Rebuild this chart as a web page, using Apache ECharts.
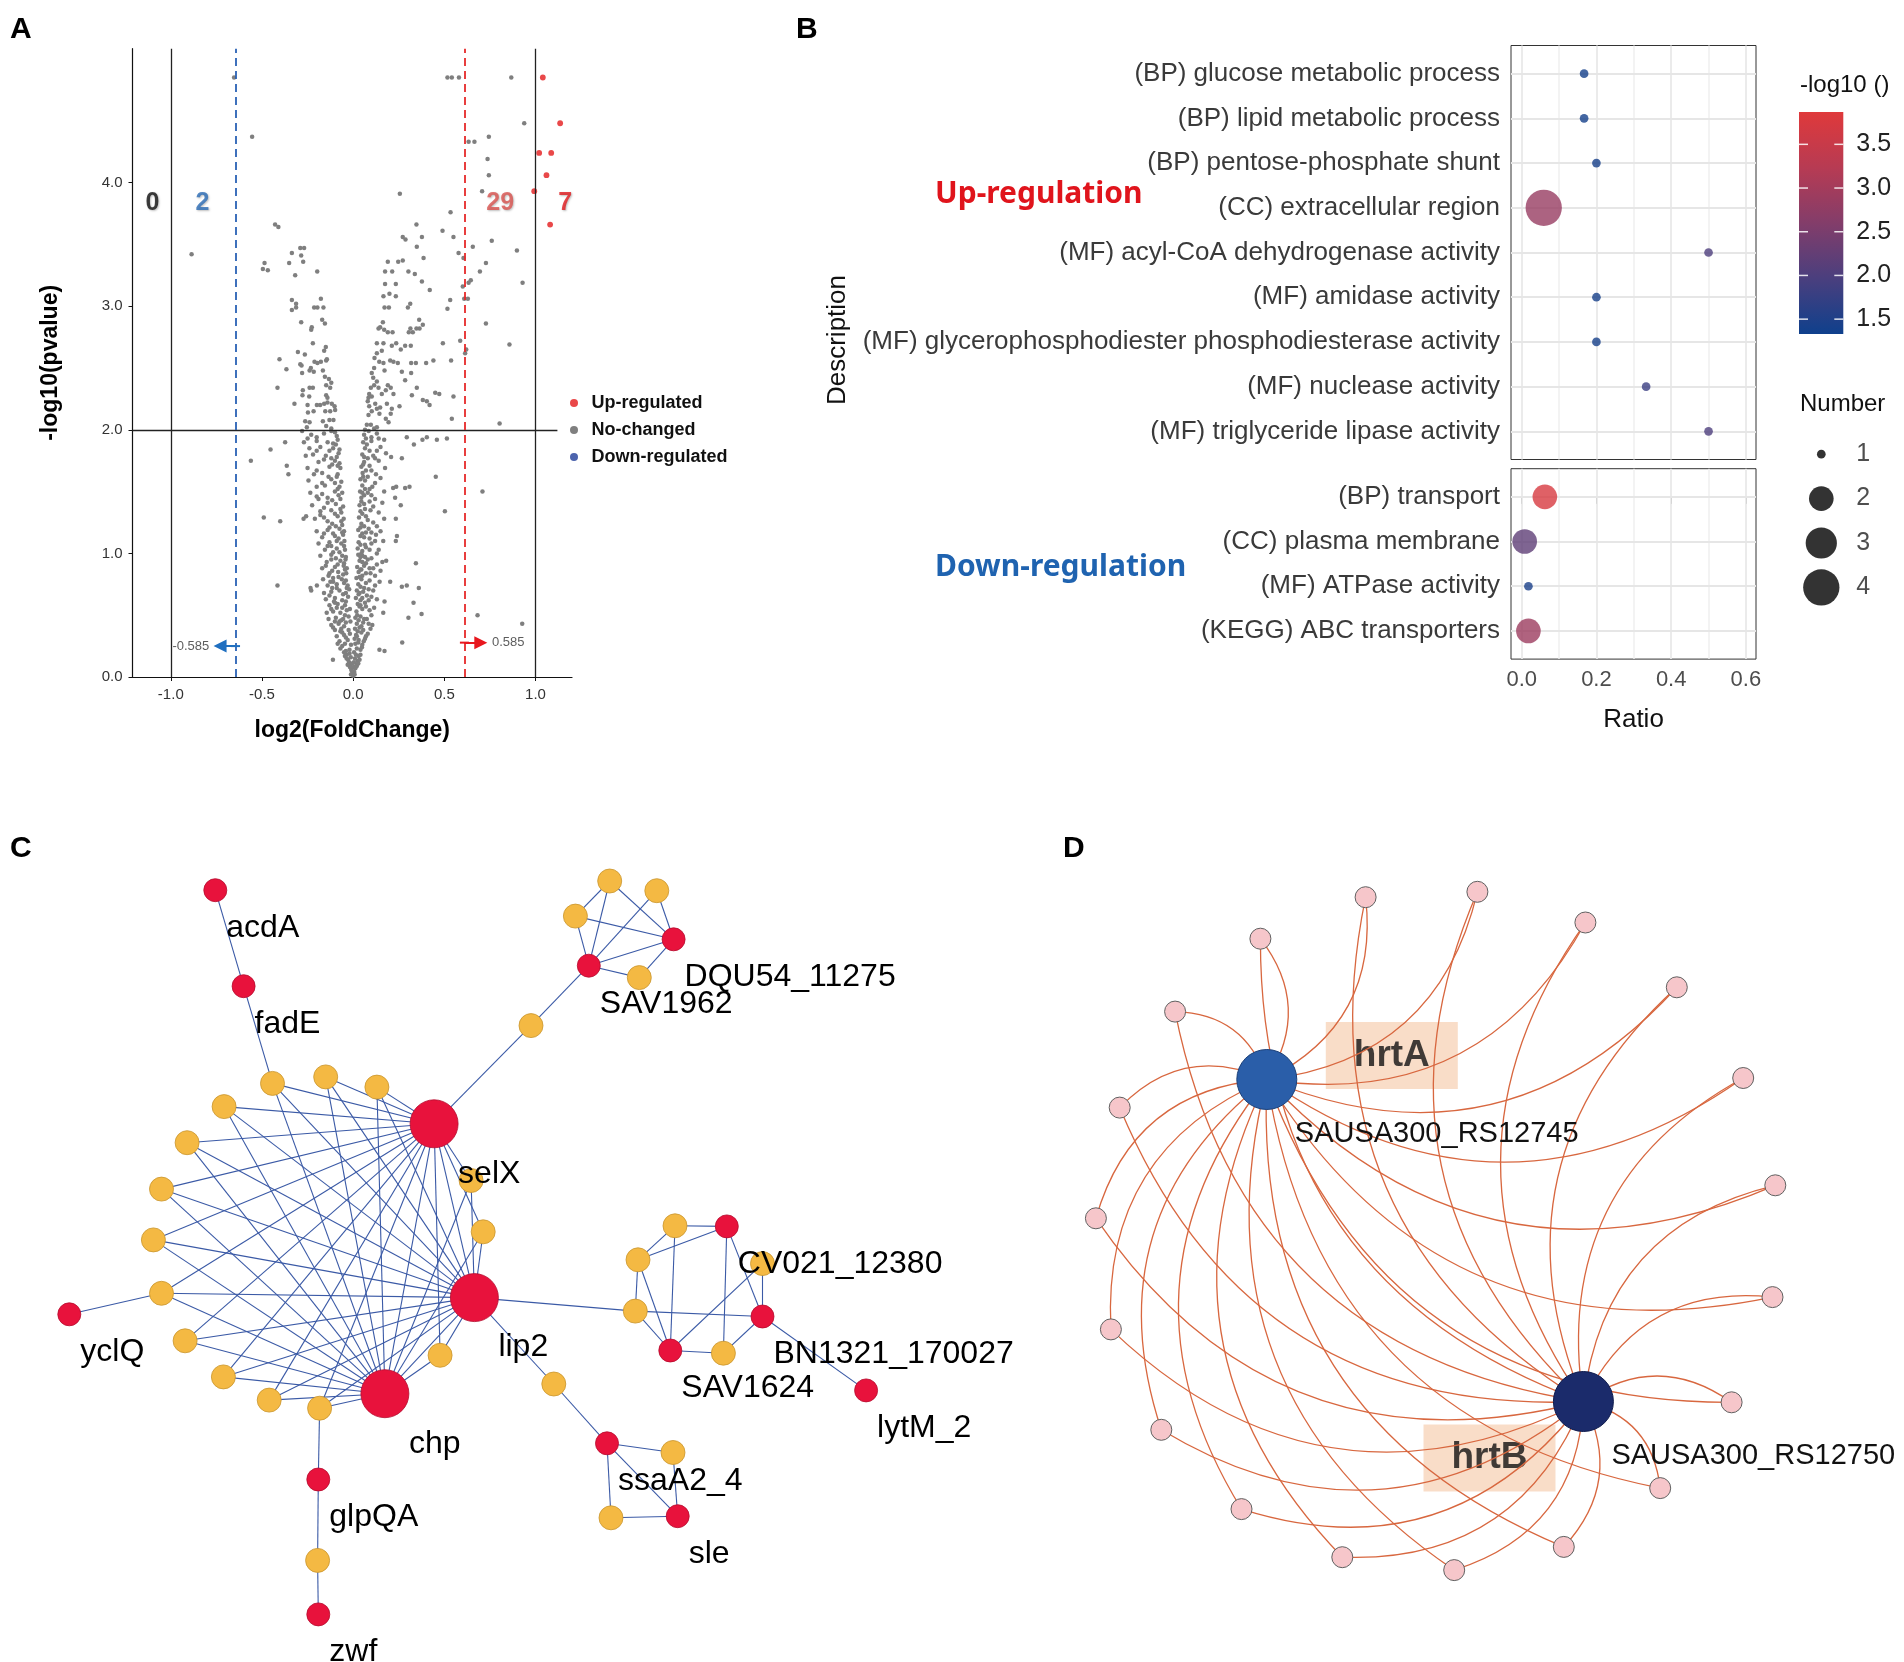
<!DOCTYPE html>
<html><head><meta charset="utf-8">
<script src="https://cdn.jsdelivr.net/npm/echarts@6/dist/echarts.min.js"></script>
<style>html,body{margin:0;padding:0;background:#fff}#c{width:1904px;height:1662px}</style>
</head><body><div id="c"></div>
<script>
// ================= Panel A: volcano =================
const volcanoUp = [[1.04,4.85],[1.135,4.48],[1.02,4.24],[1.086,4.24],[1.06,4.06],[0.993,3.93],[1.08,3.66]];
const volcanoDown = [];
const volcanoGray = [
[-0.653,4.85],[0.517,4.85],[0.541,4.85],[0.580,4.85],[0.867,4.85],[0.938,4.48],[-0.554,4.37],[0.633,4.33],[0.665,4.33],[0.744,4.37],
[0.737,4.19],[0.744,4.06],[0.707,3.93],[0.256,3.91],[-0.886,3.42],
[-0.428,3.66],[-0.41,3.64],[0.534,3.76],[0.347,3.66],[0.49,3.61],[0.55,3.56],[0.76,3.53],[0.272,3.56],[0.287,3.54],[0.377,3.56],[0.349,3.48],[0.656,3.48],[0.898,3.45],[0.578,3.43],[0.605,3.39],[0.386,3.39],
[-0.29,3.47],[-0.269,3.47],[-0.336,3.43],[-0.285,3.41],[-0.274,3.36],[-0.351,3.35],[-0.486,3.35],[-0.495,3.30],[-0.468,3.29],[-0.318,3.25],[-0.197,3.28],
[0.19,3.36],[0.247,3.36],[0.272,3.37],[0.175,3.28],[0.214,3.28],[0.303,3.28],[0.338,3.26],[0.728,3.35],[0.695,3.28],[0.377,3.20],[0.42,3.13],[0.929,3.19],[0.645,3.21],[0.633,3.19],[0.601,3.16],[0.175,3.18],[0.234,3.18],
[0.166,3.08],[0.199,3.10],[0.234,3.08],[0.609,3.06],[0.629,3.06],[0.532,3.05],[0.517,2.98],[0.313,3.02],[0.30,2.99],[0.172,2.99],[0.196,2.99],
[-0.336,3.05],[-0.313,3.02],[-0.336,2.97],[-0.313,2.99],[-0.214,2.99],[-0.196,2.99],[-0.163,2.99],[-0.177,3.06],[-0.285,2.87],[-0.17,2.89],[-0.155,2.86],[-0.227,2.83],[-0.23,2.81],
[0.163,2.87],[0.148,2.83],[0.139,2.82],[0.17,2.81],[0.19,2.79],[0.216,2.79],[0.362,2.89],[0.382,2.85],[0.364,2.82],[0.347,2.82],[0.314,2.82],[0.305,2.79],[0.327,2.79],[0.728,2.86],
[-0.221,2.70],[-0.303,2.63],[-0.265,2.61],[-0.15,2.67],[-0.159,2.64],[-0.404,2.57],[-0.29,2.53],[-0.283,2.52],[-0.212,2.55],[-0.196,2.54],[-0.177,2.55],[-0.148,2.56],[-0.144,2.57],[-0.366,2.49],[-0.232,2.50],[-0.239,2.48],[-0.216,2.47],[-0.28,2.46],[-0.166,2.48],[-0.155,2.43],[-0.133,2.41],[-0.12,2.38],[-0.148,2.36],[-0.126,2.34],[-0.415,2.34],[-0.276,2.32],[-0.239,2.34],[-0.221,2.34],[-0.278,2.28],[-0.241,2.27],[-0.148,2.28],[-0.141,2.26],[-0.322,2.21],
[-0.25,2.2],[-0.199,2.2],[-0.181,2.2],[-0.159,2.21],[-0.141,2.22],[-0.117,2.21],[-0.102,2.19],[-0.248,2.14],[-0.217,2.15],[-0.153,2.15],[-0.126,2.15],[-0.099,2.16],
[-0.263,2.07],[-0.239,2.06],[-0.166,2.07],[-0.13,2.08],[-0.108,2.08],[-0.254,2.02],[-0.148,2.03],[-0.12,2.01],
[0.13,2.70],[0.166,2.70],[0.212,2.68],[0.236,2.70],[0.13,2.62],[0.157,2.64],[0.117,2.58],[0.143,2.55],[0.166,2.54],[0.203,2.56],[0.221,2.55],[0.245,2.54],[0.261,2.65],[0.285,2.68],[0.316,2.68],[0.318,2.54],[0.344,2.54],[0.40,2.54],[0.44,2.56],[0.267,2.47],[0.318,2.46],[0.172,2.48],[0.102,2.46],[0.115,2.50],[0.11,2.42],[0.13,2.39],[0.115,2.36],[0.097,2.34],[0.285,2.40],[0.19,2.36],[0.206,2.34],[0.221,2.29],[0.179,2.32],[0.139,2.34],[0.157,2.29],[0.349,2.34],[0.322,2.28],[0.45,2.30],[0.472,2.29],[0.382,2.24],[0.404,2.23],[0.419,2.20],[0.55,2.27],[0.088,2.29],[0.084,2.26],[0.102,2.27],[0.08,2.23],[0.088,2.19],[0.102,2.15],[0.084,2.12],[0.121,2.21],[0.13,2.17],[0.148,2.18],[0.144,2.13],[0.185,2.21],[0.212,2.17],[0.206,2.13],[0.179,2.09],[0.194,2.06],[0.254,2.19],[0.587,2.72],[0.62,2.65],[0.614,2.62],[0.492,2.70],[0.537,2.56],[0.857,2.69],[0.803,2.05],[0.541,2.09],[0.075,2.04],[0.097,2.04],[0.115,2.01],[0.13,2.02],
[-0.453,1.84],[-0.373,1.90],[-0.561,1.75],[-0.364,1.71],[-0.355,1.64],[-0.49,1.29],[-0.4,1.26],[-0.258,1.30],[-0.272,1.28],[-0.415,0.74],[-0.23,0.70],[-0.234,0.72],[-0.199,0.74],[-0.111,0.14],
[0.294,1.94],[0.333,1.88],[0.38,1.92],[0.404,1.94],[0.459,1.92],[0.514,1.93],[0.267,1.77],[0.208,1.78],[0.453,1.62],[0.709,1.50],[0.219,1.53],[0.236,1.54],[0.285,1.53],[0.309,1.54],[0.23,1.45],[0.261,1.39],[0.503,1.34],[0.234,1.28],[0.24,1.14],[0.234,1.10],[0.344,0.92],[0.181,0.94],[0.203,0.77],[0.267,0.73],[0.294,0.74],[0.36,0.72],[0.172,0.61],[0.331,0.60],[0.375,0.51],[0.303,0.48],[0.165,0.52],[0.682,0.50],[0.927,0.43],[0.269,0.28],[0.144,0.22],[0.172,0.21],
[0,0.01],[-0.004,0.03],[0.006,0.04],[-0.01,0.06],[0.012,0.07],[-0.016,0.09],[0.003,0.08],[0.018,0.1],[-0.022,0.12],[-0.006,0.11],[0.024,0.13],[-0.028,0.14],[0.01,0.15],[-0.013,0.16],[0.03,0.17],[-0.035,0.18],
[-0.04,0.21],[-0.02,0.22],[0.005,0.2],[0.02,0.23],[0.04,0.22],[-0.06,0.25],[-0.012,0.26],[0.012,0.27],[0.05,0.26],[-0.075,0.29],[-0.03,0.3],[0.008,0.31],[0.03,0.3],[0.065,0.31],[-0.09,0.33],[-0.05,0.34],[-0.018,0.35],[0.016,0.34],[0.045,0.36],[0.08,0.35],[-0.1,0.38],[-0.065,0.39],[-0.025,0.38],[0.01,0.39],[0.035,0.4],[0.095,0.39],
[-0.12,0.42],[-0.08,0.43],[-0.04,0.44],[-0.015,0.45],[0.02,0.43],[0.055,0.44],[0.105,0.42],[-0.135,0.47],[-0.095,0.48],[-0.055,0.47],[-0.025,0.49],[0.012,0.48],[0.04,0.49],[0.075,0.47],[-0.145,0.52],[-0.11,0.53],[-0.07,0.52],[-0.035,0.54],[-0.018,0.55],[0.018,0.53],[0.05,0.55],[0.09,0.54],[0.115,0.56],[-0.13,0.58],[-0.085,0.59],[-0.045,0.58],[0.025,0.59],[0.065,0.6],
[-0.15,0.63],[-0.1,0.64],[-0.06,0.62],[-0.028,0.65],[0.015,0.64],[0.04,0.62],[0.1,0.65],[0.13,0.63],[-0.16,0.68],[-0.12,0.69],[-0.075,0.7],[-0.04,0.68],[-0.022,0.71],[0.02,0.7],[0.055,0.69],[0.085,0.71],[-0.14,0.74],[-0.09,0.75],[-0.05,0.76],[-0.03,0.74],[0.028,0.75],[0.07,0.76],[0.12,0.74],[0.145,0.77],[-0.165,0.79],[-0.11,0.8],[-0.062,0.79],[0.018,0.8],[0.045,0.79],
[-0.13,0.84],[-0.082,0.85],[-0.038,0.84],[0.03,0.85],[0.095,0.84],[0.15,0.86],[-0.17,0.88],[-0.1,0.89],[-0.052,0.9],[-0.035,0.88],[0.022,0.89],[0.06,0.9],[0.11,0.88],[-0.145,0.93],[-0.07,0.94],[-0.042,0.95],[0.035,0.94],[0.08,0.95],[0.16,0.93],[-0.18,0.98],[-0.12,0.99],[-0.06,0.98],[0.028,0.99],[0.05,0.98],[0.13,1.0],
[-0.155,1.03],[-0.09,1.04],[-0.045,1.03],[0.025,1.04],[0.07,1.05],[0.14,1.03],[-0.19,1.08],[-0.13,1.09],[-0.065,1.08],[-0.048,1.1],[0.03,1.09],[0.1,1.08],[0.165,1.1],[-0.17,1.13],[-0.1,1.14],[-0.055,1.15],[0.04,1.14],[0.06,1.13],[0.125,1.15],[-0.2,1.18],[-0.14,1.19],[-0.075,1.2],[-0.05,1.18],[0.028,1.19],[0.085,1.2],[0.15,1.18],[-0.115,1.24],[-0.06,1.23],[0.045,1.24],[0.11,1.25],
[-0.21,1.28],[-0.16,1.29],[-0.085,1.3],[-0.052,1.28],[0.032,1.29],[0.07,1.3],[0.17,1.28],[-0.18,1.34],[-0.12,1.35],[-0.065,1.33],[0.04,1.34],[0.095,1.35],[0.14,1.33],[-0.225,1.39],[-0.095,1.4],[-0.055,1.38],[0.035,1.39],[0.06,1.4],[0.16,1.41],[-0.19,1.44],[-0.14,1.45],[-0.07,1.44],[0.045,1.45],[0.12,1.44],[-0.235,1.49],[-0.1,1.5],[-0.06,1.49],[0.038,1.5],[0.08,1.49],[0.17,1.5],
[-0.2,1.54],[-0.155,1.55],[-0.075,1.54],[0.05,1.55],[0.105,1.54],[-0.245,1.59],[-0.12,1.6],[-0.065,1.58],[0.04,1.6],[0.065,1.59],[0.15,1.61],[-0.215,1.64],[-0.17,1.65],[-0.085,1.64],[0.052,1.65],[0.125,1.64],[-0.25,1.69],[-0.13,1.7],[-0.07,1.69],[0.045,1.7],[0.09,1.71],[0.175,1.69],[-0.19,1.74],[-0.1,1.75],[-0.075,1.73],[0.06,1.74],[0.14,1.75],
[-0.26,1.79],[-0.22,1.8],[-0.15,1.79],[-0.08,1.81],[0.05,1.8],[0.11,1.79],[0.18,1.81],[-0.24,1.85],[-0.18,1.86],[-0.11,1.85],[-0.075,1.84],[0.065,1.85],[0.15,1.86],[-0.27,1.9],[-0.2,1.91],[-0.14,1.9],[-0.085,1.92],[0.055,1.9],[0.1,1.91],[0.17,1.92],[-0.23,1.96],[-0.16,1.97],[-0.09,1.95],[0.06,1.96],[0.13,1.97],[-0.28,1.99],[-0.12,1.99],[0.085,1.99],
[-0.008,0.05],[0.004,0.12],[-0.02,0.19],[0.015,0.18],[-0.045,0.27],[0.028,0.28],[-0.06,0.36],[0.025,0.37],[-0.075,0.45],[0.03,0.46],[-0.09,0.56],[0.035,0.57],[-0.105,0.61],[0.03,0.67],[-0.115,0.72],[0.04,0.73],[-0.125,0.77],[0.05,0.82],[-0.135,0.82],[0.045,0.87],[-0.15,0.9],[0.07,0.92],[-0.095,0.96],[0.04,0.97],[-0.11,1.01],[0.05,1.02],[-0.12,1.06],[0.065,1.07],[-0.08,1.12],[0.09,1.12],[-0.16,1.16],[0.07,1.17],[-0.095,1.22],[0.06,1.22],[-0.14,1.26],[0.08,1.27],[-0.1,1.32],[0.065,1.36],[-0.16,1.37],[0.09,1.42],[-0.115,1.43],[0.06,1.47],[-0.17,1.48],[0.09,1.52],[-0.1,1.57],[0.08,1.62],[-0.135,1.62],[0.07,1.67],[-0.115,1.72],[0.08,1.77],[-0.12,1.77],[0.09,1.83],[-0.13,1.83],[0.075,1.88],[-0.11,1.89],[0.1,1.94],[-0.2,1.94],
[-0.012,0.02],[0.008,0.02],[-0.018,0.08],[0.02,0.09],[-0.03,0.1],[0.028,0.11],[-0.036,0.15],[0.035,0.14],[-0.045,0.17],[0.04,0.18],[-0.05,0.2],[0.048,0.24],[-0.07,0.23],[0.058,0.29],[-0.085,0.27],[0.02,0.33],[-0.04,0.32],[0.07,0.33],[-0.07,0.37],[0.055,0.38],[-0.11,0.4],[0.045,0.41],[-0.05,0.41],[0.085,0.43],[-0.065,0.46],[0.06,0.47],[-0.1,0.45],[0.022,0.5],[-0.045,0.5],[0.1,0.5],
[-0.12,0.55],[0.07,0.57],[-0.06,0.56],[0.04,0.58],[-0.1,0.6],[0.085,0.62],[-0.04,0.61],[0.05,0.64],[-0.13,0.66],[0.075,0.66],[-0.055,0.67],[0.035,0.68],[-0.09,0.72],[0.11,0.7],[-0.035,0.72],[0.06,0.72],[-0.11,0.77],[0.09,0.78],[-0.04,0.78],[0.035,0.81],[-0.08,0.81],[0.12,0.82],[-0.055,0.83],[0.07,0.84],[-0.115,0.86],[0.04,0.87],[-0.045,0.87],[0.09,0.88],[-0.085,0.91],[0.13,0.91],[-0.05,0.92],[0.05,0.93],[-0.12,0.95],[0.1,0.96],[-0.04,0.97],[0.065,0.97],
[-0.075,1.01],[0.045,1.0],[-0.14,1.06],[0.09,1.03],[-0.05,1.06],[0.04,1.07],[-0.09,1.1],[0.12,1.1],[-0.11,1.16],[0.05,1.16],[-0.06,1.17],[0.1,1.17],[-0.13,1.21],[0.04,1.21],[-0.065,1.26],[0.13,1.22],[-0.18,1.31],[0.05,1.32],[-0.07,1.36],[0.11,1.38],[-0.14,1.41],[0.045,1.42],[-0.08,1.47],[0.1,1.47],[-0.2,1.46],[0.05,1.49],
[-0.085,1.52],[0.065,1.52],[-0.17,1.57],[0.12,1.57],[-0.09,1.62],[0.055,1.62],[-0.2,1.67],[0.1,1.67],[-0.085,1.71],[0.055,1.72],[-0.16,1.76],[0.12,1.77],[-0.09,1.78],[0.06,1.78],[-0.2,1.83],[0.13,1.83],[-0.095,1.88],[0.07,1.93],[-0.25,1.93],[0.14,1.93],[-0.1,1.98],[0.065,2.0]
];
const volcanoXTicks = [-1, -0.5, 0, 0.5, 1];
const volcanoYTicks = [0, 1, 2, 3, 4];
const volcanoXRange = [-1.21, 1.2];
const volcanoYRange = [0, 5.083];
const pCutLine = 2.0;            // horizontal threshold
const pCutLineEnd = 1.12;
const fcBorders = [-1, 1];       // solid vertical lines
const fcCutLeft = -0.645, fcCutRight = 0.61;   // dashed threshold lines as drawn
const arrowY = [0.25, 0.278];
const arrowTip = [-0.73, 0.70];
const thresholdText = ['-0.585', '0.585'];
const thresholdTextX = [-0.789, 0.761];
const countLabels = ['0', '2', '29', '7'];
const countX = [-1.1, -0.826, 0.806, 1.163];
const countY = 3.83;

// ================= Panel B: enrichment =================
const upTerms = ['(BP) glucose metabolic process','(BP) lipid metabolic process','(BP) pentose-phosphate shunt','(CC) extracellular region','(MF) acyl-CoA dehydrogenase activity','(MF) amidase activity','(MF) glycerophosphodiester phosphodiesterase activity','(MF) nuclease activity','(MF) triglyceride lipase activity'];
const upRatio  = [0.167, 0.167, 0.2, 0.059, 0.5, 0.2, 0.2, 0.333, 0.5];
const upNumber = [1, 1, 1, 4, 1, 1, 1, 1, 1];
const upLogP   = [1.38, 1.38, 1.42, 2.85, 2.0, 1.42, 1.42, 1.8, 2.0];
const downTerms = ['(BP) transport','(CC) plasma membrane','(MF) ATPase activity','(KEGG) ABC transporters'];
const downRatio  = [0.062, 0.008, 0.018, 0.018];
const downNumber = [2, 2, 1, 2];
const downLogP   = [3.75, 2.2, 1.45, 2.9];
const ratioTicks = [0, 0.2, 0.4, 0.6];
const ratioMinor = [0.1, 0.3, 0.5];
const ratioRange = [-0.0286, 0.627];
const cbRange = [1.33, 3.87];
const cbTicks = [1.5, 2.0, 2.5, 3.0, 3.5];
const numberLegend = [1, 2, 3, 4];

// ================= Panel C: PPI network =================
// [name, x, y, kind, showLabel]
const cNodes = [
 ['acdA',215.3,70.2,'red',1],['fadE',243.6,166.2,'red',1],
 ['o1',272.5,263.4,'org',0],['o2',325.7,256.9,'org',0],['o3',376.9,267.1,'org',0],['o4',224.1,286.6,'org',0],['o5',187.1,322.7,'org',0],
 ['o6',161.5,369.1,'org',0],['o7',153.4,419.9,'org',0],['o8',161.5,473.3,'org',0],['o9',185.1,520.8,'org',0],['o10',223.4,556.9,'org',0],
 ['o11',269.2,580.1,'org',0],['o12',319.6,588.2,'org',0],['o13',440.1,535.3,'org',0],['o14',483.2,411.8,'org',0],['o15',471.1,360.5,'org',0],
 ['selX',434.1,303.8,'hub',1],['lip2',474.4,477.6,'hub',1],['chp',384.9,573.7,'hub',1],
 ['yclQ',69.3,494.3,'red',1],['k1',531,205.6,'org',0],
 ['SAV1962',588.8,145.7,'red',1],['DQU54_11275',673.6,119.3,'red',1],
 ['t1',609.7,61,'org',0],['t2',656.8,70.7,'org',0],['t3',575.4,96.1,'org',0],['t4',639.3,157.6,'org',0],
 ['r1',635.3,491.1,'org',0],['r2',638,439.8,'org',0],['r3',675,405.8,'org',0],['CV021_12380',726.8,406.4,'red',1],
 ['r5',762.5,443.6,'org',0],['BN1321_170027',762.5,496.5,'red',1],['r7',723.4,533.2,'org',0],['SAV1624',670.3,530.5,'red',1],
 ['lytM_2',866.1,570.4,'red',1],
 ['b1',553.8,564,'org',0],['ssaA2_4',607,623.3,'red',1],['b3',673,632.5,'org',0],['b4',611,697.8,'org',0],['sle',677.7,696.2,'red',1],
 ['glpQA',318.3,659.5,'red',1],['g1',317.6,740.4,'org',0],['zwf',318.3,794.4,'red',1]
];
const cHubs = ['selX','lip2','chp'];
const cRing = ['o1','o2','o3','o4','o5','o6','o7','o8','o9','o10','o11','o12','o13','o14','o15'];
const cEdges = [
 ['acdA','fadE'],['fadE','o1'],['o8','yclQ'],['selX','lip2'],['selX','chp'],['lip2','chp'],
 ['selX','k1'],['k1','SAV1962'],
 ['SAV1962','t1'],['SAV1962','t2'],['SAV1962','t3'],['SAV1962','t4'],['SAV1962','DQU54_11275'],
 ['DQU54_11275','t1'],['DQU54_11275','t2'],['DQU54_11275','t3'],['DQU54_11275','t4'],['t3','t1'],
 ['lip2','r1'],['r1','r2'],['r1','SAV1624'],['r1','BN1321_170027'],['r2','r3'],['r2','CV021_12380'],['r2','SAV1624'],
 ['r3','CV021_12380'],['r3','SAV1624'],['CV021_12380','BN1321_170027'],['CV021_12380','r7'],['r5','BN1321_170027'],['r5','SAV1624'],
 ['BN1321_170027','r7'],['r7','SAV1624'],['BN1321_170027','lytM_2'],
 ['lip2','b1'],['b1','ssaA2_4'],['ssaA2_4','b3'],['ssaA2_4','b4'],['ssaA2_4','sle'],['b3','sle'],['b4','sle'],
 ['o12','glpQA'],['glpQA','g1'],['g1','zwf']
];

// ================= Panel D: hub network =================
const dHubNames = ['SAUSA300_RS12745','SAUSA300_RS12750'];
const dHubX = [226.8, 543.4];
const dHubY = [259.5, 581.5];
const dGeneNames = ['hrtA','hrtB'];
const dGeneBoxX = [351.8, 449.5];
const dGeneBoxY = [235.5, 638];
const dPinkX = [325.6,437.4,545.4,636.8,703.2,735.3,732.5,691.6,620.2,523.8,414.2,302.3,201.5,121.3,70.9,55.9,79.7,135.1,220.4];
const dPinkY = [77.2,71.8,102.5,167.3,258,365.3,477.1,582.3,668.1,726.9,750.1,737.2,689.1,609.8,509.4,398.3,287.6,191.6,118.7];

// ================= styles =================
const FONT = 'Liberation Sans, Arial, Helvetica, sans-serif';
const cbColors = ['#0f408c','#4a3f7e','#833d6a','#b73b53','#df393b'];
const nMin = Math.min(...upNumber, ...downNumber), nMax = Math.max(...upNumber, ...downNumber);
function sizeScale(n){ return 8.7 + 27.6 * Math.sqrt((n - nMin) / (nMax - nMin)); }
const countColors = ['#111111','#2a6cb5','#d9534f','#e0191d'];

const chart = echarts.init(document.getElementById('c'), null, {renderer:'canvas', width:1904, height:1662});

function gridLinesB(nCat){
  const d = [];
  ratioTicks.forEach(v => d.push({xAxis:v, lineStyle:{color:'#e9e9e9', width:1.8, type:'solid'}}));
  ratioMinor.forEach(v => d.push({xAxis:v, lineStyle:{color:'#efefef', width:1.5, type:'solid'}}));
  for (let i = 0; i < nCat; i++) d.push({yAxis:i, lineStyle:{color:'#e6e6e6', width:1.9, type:'solid'}});
  return d;
}

const pinkNodes = dPinkX.map((x,i)=>({name:'p'+i, value:[x, dPinkY[i]], symbolSize:21,
  itemStyle:{color:'#f6c6ca', borderColor:'#606060', borderWidth:1}, label:{show:false}}));
const hubNodes = dHubNames.map((n,i)=>({name:n, value:[dHubX[i], dHubY[i]], symbolSize:60,
  itemStyle:{color: i===0 ? '#2a5ea9' : '#1b2b6b', borderColor: i===0 ? '#1d4179' : '#101c4d', borderWidth:1},
  label:{show:true, position:'inside', offset:[28,54], align:'left', verticalAlign:'middle', fontSize:29, color:'#111', fontFamily:FONT}}));
const dLinks = [];
dPinkX.forEach((x,i)=>{
  dLinks.push({source:dHubNames[0], target:'p'+i, lineStyle:{curveness:-0.35}});
  dLinks.push({source:dHubNames[1], target:'p'+i, lineStyle:{curveness:0.35}});
});

const cStyle = {
  hub:{size:48, color:'#e8123c', border:'#b50d2e'},
  red:{size:23, color:'#e8123c', border:'#b50d2e'},
  org:{size:24, color:'#f4b943', border:'#c9962f'}
};
const cGraphNodes = cNodes.map(r=>{
  const s = cStyle[r[3]];
  const off = r[3]==='hub' ? [24,50] : [11,38];
  return {name:r[0], value:[r[1], r[2]], symbolSize:s.size,
    itemStyle:{color:s.color, borderColor:s.border, borderWidth:0.8},
    label:{show: !!r[4], position:'inside', offset:off, align:'left', verticalAlign:'middle', fontSize:32, color:'#000', fontFamily:FONT}};
});
const cLinks = cEdges.map(e=>({source:e[0], target:e[1]}));
cHubs.forEach(h => cRing.forEach(o => cLinks.push({source:h, target:o})));

const option = {
  animation:false,
  backgroundColor:'#ffffff',
  textStyle:{fontFamily:FONT},
  grid:[
    {left:132.5, top:48.7, width:439.5, height:628.3},
    {left:1511, top:45.5, width:245, height:414, show:true, borderColor:'#333', borderWidth:1},
    {left:1511, top:468.7, width:245, height:190.4, show:true, borderColor:'#333', borderWidth:1},
    {left:1799, top:112, width:44.3, height:222},
    {left:1811.3, top:432, width:20, height:177.6},
    {left:0, top:820, width:1000, height:842},
    {left:1040, top:820, width:864, height:842}
  ],
  xAxis:[
    {gridIndex:0, type:'value', min:volcanoXRange[0], max:volcanoXRange[1],
     axisLine:{show:true, onZero:false, lineStyle:{color:'#111', width:1.2}},
     axisTick:{show:true, customValues:volcanoXTicks, length:4, lineStyle:{color:'#111'}},
     axisLabel:{customValues:volcanoXTicks, formatter:v=>v.toFixed(1), fontSize:15, color:'#333', margin:10},
     splitLine:{show:false},
     name:'log2(FoldChange)', nameLocation:'middle', nameGap:42,
     nameTextStyle:{fontSize:23, fontWeight:'bold', color:'#000'}},
    {gridIndex:1, type:'value', min:ratioRange[0], max:ratioRange[1], axisLine:{show:false}, axisTick:{show:false}, axisLabel:{show:false}, splitLine:{show:false}},
    {gridIndex:2, type:'value', min:ratioRange[0], max:ratioRange[1],
     axisLine:{show:false},
     axisTick:{show:true, customValues:ratioTicks, length:7, lineStyle:{color:'#333'}},
     axisLabel:{customValues:ratioTicks, formatter:v=>v.toFixed(1), fontSize:22, color:'#4d4d4d', margin:10},
     splitLine:{show:false},
     name:'Ratio', nameLocation:'middle', nameGap:48, nameTextStyle:{fontSize:26, color:'#111'}},
    {gridIndex:3, type:'value', min:0, max:1, show:false},
    {gridIndex:4, type:'category', data:['n'], show:false},
    {gridIndex:5, type:'value', min:0, max:1000, show:false},
    {gridIndex:6, type:'value', min:0, max:864, show:false}
  ],
  yAxis:[
    {gridIndex:0, type:'value', min:volcanoYRange[0], max:volcanoYRange[1],
     axisLine:{show:true, onZero:false, lineStyle:{color:'#111', width:1.2}},
     axisTick:{show:true, customValues:volcanoYTicks, length:4, lineStyle:{color:'#111'}},
     axisLabel:{customValues:volcanoYTicks, formatter:v=>v.toFixed(1), fontSize:15, color:'#333', margin:10},
     splitLine:{show:false},
     name:'-log10(pvalue)', nameLocation:'middle', nameGap:70,
     nameTextStyle:{fontSize:23, fontWeight:'bold', color:'#000'}},
    {gridIndex:1, type:'value', min:-0.63, max:upTerms.length-1+0.63, inverse:true,
     axisLine:{show:false},
     axisTick:{show:true, customValues:upTerms.map((t,i)=>i), length:7, lineStyle:{color:'#333'}},
     axisLabel:{customValues:upTerms.map((t,i)=>i), formatter:v=>upTerms[Math.round(v)], fontSize:26, color:'#3a3a3a', margin:11},
     splitLine:{show:false}},
    {gridIndex:2, type:'value', min:-0.63, max:downTerms.length-1+0.63, inverse:true,
     axisLine:{show:false},
     axisTick:{show:true, customValues:downTerms.map((t,i)=>i), length:7, lineStyle:{color:'#333'}},
     axisLabel:{customValues:downTerms.map((t,i)=>i), formatter:v=>downTerms[Math.round(v)], fontSize:26, color:'#3a3a3a', margin:11},
     splitLine:{show:false}},
    {gridIndex:3, type:'value', min:cbRange[0], max:cbRange[1], position:'right',
     axisLine:{show:false}, axisTick:{show:false}, splitLine:{show:false},
     axisLabel:{customValues:cbTicks, formatter:v=>v.toFixed(1), fontSize:25, color:'#222', margin:13}},
    {gridIndex:4, type:'value', min:0.5, max:4.5, inverse:true, show:false},
    {gridIndex:5, type:'value', min:0, max:842, inverse:true, show:false},
    {gridIndex:6, type:'value', min:0, max:842, inverse:true, show:false}
  ],
  legend:{
    data:['Up-regulated','No-changed','Down-regulated'],
    orient:'vertical', left:570, top:393, padding:0,
    itemWidth:25, itemHeight:8, itemGap:7, icon:'circle',
    textStyle:{fontSize:18, fontWeight:'bold', color:'#111', lineHeight:20}
  },
  visualMap:[{type:'continuous', show:false, min:cbRange[0], max:cbRange[1], dimension:3,
    seriesIndex:[7,8], inRange:{color:cbColors}}],
  series:[
    // 0 reference lines A
    {type:'scatter', xAxisIndex:0, yAxisIndex:0, data:[], silent:true, z:1,
     markLine:{silent:true, symbol:'none', label:{show:false}, animation:false,
       data:[
         [{coord:[volcanoXRange[0], pCutLine], lineStyle:{color:'#222', width:1.3, type:'solid'}}, {coord:[pCutLineEnd, pCutLine]}],
         [{coord:[fcBorders[0], 0], lineStyle:{color:'#222', width:1.3, type:'solid'}}, {coord:[fcBorders[0], volcanoYRange[1]]}],
         [{coord:[fcBorders[1], 0], lineStyle:{color:'#222', width:1.3, type:'solid'}}, {coord:[fcBorders[1], volcanoYRange[1]]}],
         [{coord:[fcCutLeft, 0], lineStyle:{color:'#2a62b5', width:1.8, type:[8,5]}}, {coord:[fcCutLeft, volcanoYRange[1]]}],
         [{coord:[fcCutRight, 0], lineStyle:{color:'#e62a2a', width:1.8, type:[8,5]}}, {coord:[fcCutRight, volcanoYRange[1]]}],
         [{coord:[fcCutLeft, arrowY[0]], symbol:'rect', symbolSize:[2,9], lineStyle:{color:'#1f6fc0', width:2, type:'solid'}}, {coord:[arrowTip[0], arrowY[0]], symbol:'triangle', symbolSize:[13,13]}],
         [{coord:[fcCutRight, arrowY[1]], symbol:'rect', symbolSize:[2,9], lineStyle:{color:'#e8171e', width:2, type:'solid'}}, {coord:[arrowTip[1], arrowY[1]], symbol:'triangle', symbolSize:[13,13]}]
       ]}},
    // 1 gray
    {name:'No-changed', type:'scatter', xAxisIndex:0, yAxisIndex:0, data:volcanoGray, symbolSize:4.5,
     itemStyle:{color:'#7f7f7f', opacity:1}, z:2, silent:true},
    // 2 up
    {name:'Up-regulated', type:'scatter', xAxisIndex:0, yAxisIndex:0, data:volcanoUp, symbolSize:5.8,
     itemStyle:{color:'#e41a1c'}, z:3, silent:true},
    // 3 down
    {name:'Down-regulated', type:'scatter', xAxisIndex:0, yAxisIndex:0, data:volcanoDown, symbolSize:5.8,
     itemStyle:{color:'#1f3d99'}, z:3, silent:true},
    // 4 count labels
    {type:'scatter', xAxisIndex:0, yAxisIndex:0, symbolSize:0, silent:true, z:6,
     data:countLabels.map((t,i)=>({value:[countX[i], countY], label:{color:countColors[i]}})),
     label:{show:true, position:'inside', fontSize:25, fontWeight:'bold',
       formatter:p=>countLabels[p.dataIndex],
       textShadowColor:'rgba(0,0,0,0.3)', textShadowBlur:2, textShadowOffsetX:1, textShadowOffsetY:1}},
    // 5 threshold text
    {type:'scatter', xAxisIndex:0, yAxisIndex:0, symbolSize:0, silent:true, z:6,
     data:thresholdText.map((t,i)=>({value:[thresholdTextX[i], arrowY[i]], label:{align: i===0 ? 'right' : 'left'}})),
     label:{show:true, position:'inside', fontSize:13, color:'#333', verticalAlign:'middle', formatter:p=>thresholdText[p.dataIndex]}},
    // 6 grid lines B top
    {type:'scatter', xAxisIndex:1, yAxisIndex:1, data:[], silent:true, z:1,
     markLine:{silent:true, symbol:'none', label:{show:false}, animation:false, data:gridLinesB(upTerms.length)}},
    // 7 B up points
    {type:'scatter', xAxisIndex:1, yAxisIndex:1, z:10, silent:true,
     data:upTerms.map((t,i)=>[upRatio[i], i, upNumber[i], upLogP[i]]),
     symbolSize:d=>sizeScale(d[2])},
    // 8 B down points
    {type:'scatter', xAxisIndex:2, yAxisIndex:2, z:10, silent:true,
     data:downTerms.map((t,i)=>[downRatio[i], i, downNumber[i], downLogP[i]]),
     symbolSize:d=>sizeScale(d[2])},
    // 9 grid lines B bottom
    {type:'scatter', xAxisIndex:2, yAxisIndex:2, data:[], silent:true, z:1,
     markLine:{silent:true, symbol:'none', label:{show:false}, animation:false, data:gridLinesB(downTerms.length)}},
    // 10 colorbar
    {type:'custom', xAxisIndex:3, yAxisIndex:3, silent:true, data:[[0, cbRange[0], cbRange[1]]],
     renderItem:(params, api)=>{
       const cs = params.coordSys;
       const yTop = api.coord([0, api.value(2)])[1], yBot = api.coord([0, api.value(1)])[1];
       return {type:'rect', shape:{x:cs.x, y:yTop, width:cs.width, height:yBot-yTop},
         style:{fill:new echarts.graphic.LinearGradient(0,1,0,0, cbColors.map((c,i)=>({offset:i/(cbColors.length-1), color:c})))}};
     }},
    // 11 colorbar ticks
    {type:'custom', xAxisIndex:3, yAxisIndex:3, silent:true, z:3, data:cbTicks.map(t=>[0,t]),
     renderItem:(params, api)=>{
       const cs = params.coordSys;
       const y = api.coord([0, api.value(1)])[1];
       return {type:'group', children:[
         {type:'line', shape:{x1:cs.x, y1:y, x2:cs.x+9, y2:y}, style:{stroke:'rgba(255,255,255,0.85)', lineWidth:1.5}},
         {type:'line', shape:{x1:cs.x+cs.width-9, y1:y, x2:cs.x+cs.width, y2:y}, style:{stroke:'rgba(255,255,255,0.85)', lineWidth:1.5}}
       ]};
     }},
    // 12 Number legend
    {type:'scatter', xAxisIndex:4, yAxisIndex:4, silent:true,
     data:numberLegend.map(n=>['n', n, n]), symbolSize:d=>sizeScale(d[2]),
     itemStyle:{color:'#000'},
     label:{show:true, position:'inside', offset:[35,0], align:'left', verticalAlign:'middle', fontSize:25, color:'#222', formatter:p=>String(p.data[2])}},
    // 13 Panel C graph
    {type:'graph', coordinateSystem:'cartesian2d', xAxisIndex:5, yAxisIndex:5, silent:true, z:2,
     data:cGraphNodes, links:cLinks,
     lineStyle:{color:'#3b5aa6', width:1.1, opacity:1, curveness:0},
     emphasis:{disabled:true}},
    // 14 Panel D gene boxes
    {type:'scatter', xAxisIndex:6, yAxisIndex:6, silent:true, z:1, symbolSize:0,
     data:dGeneNames.map((g,i)=>[dGeneBoxX[i], dGeneBoxY[i]]),
     label:{show:true, position:'inside', formatter:p=>dGeneNames[p.dataIndex],
       width:132, height:67, lineHeight:67, align:'center', verticalAlign:'middle',
       backgroundColor:'#f7d4ba', fontSize:37, fontWeight:'bold', color:'#111'}},
    // 15 Panel D graph
    {type:'graph', coordinateSystem:'cartesian2d', xAxisIndex:6, yAxisIndex:6, silent:true, z:2,
     data:hubNodes.concat(pinkNodes), links:dLinks,
     lineStyle:{color:'#d8673f', width:1.3, opacity:1},
     emphasis:{disabled:true}}
  ],
  graphic:[
    {type:'text', x:10, y:30, style:{text:'A', font:'bold 30px '+FONT, fill:'#000', align:'left', verticalAlign:'middle'}},
    {type:'text', x:796, y:30, style:{text:'B', font:'bold 30px '+FONT, fill:'#000', align:'left', verticalAlign:'middle'}},
    {type:'text', x:10, y:849, style:{text:'C', font:'bold 30px '+FONT, fill:'#000', align:'left', verticalAlign:'middle'}},
    {type:'text', x:1063, y:849, style:{text:'D', font:'bold 30px '+FONT, fill:'#000', align:'left', verticalAlign:'middle'}},
    {type:'text', x:935, y:194, style:{text:'Up-regulation', font:'bold 30px Noto Sans, sans-serif', fill:'#e0141c', align:'left', verticalAlign:'middle'}},
    {type:'text', x:935, y:567, style:{text:'Down-regulation', font:'bold 30px Noto Sans, sans-serif', fill:'#1f63b0', align:'left', verticalAlign:'middle'}},
    {type:'text', x:838, y:340, rotation:Math.PI/2, style:{text:'Description', font:'26px '+FONT, fill:'#111', align:'center', verticalAlign:'middle'}},
    {type:'text', x:1800, y:85, style:{text:'-log10 ()', font:'24px '+FONT, fill:'#111', align:'left', verticalAlign:'middle'}},
    {type:'text', x:1800, y:404, style:{text:'Number', font:'24px '+FONT, fill:'#111', align:'left', verticalAlign:'middle'}}
  ]
};
chart.setOption(option);
</script>
</body></html>
